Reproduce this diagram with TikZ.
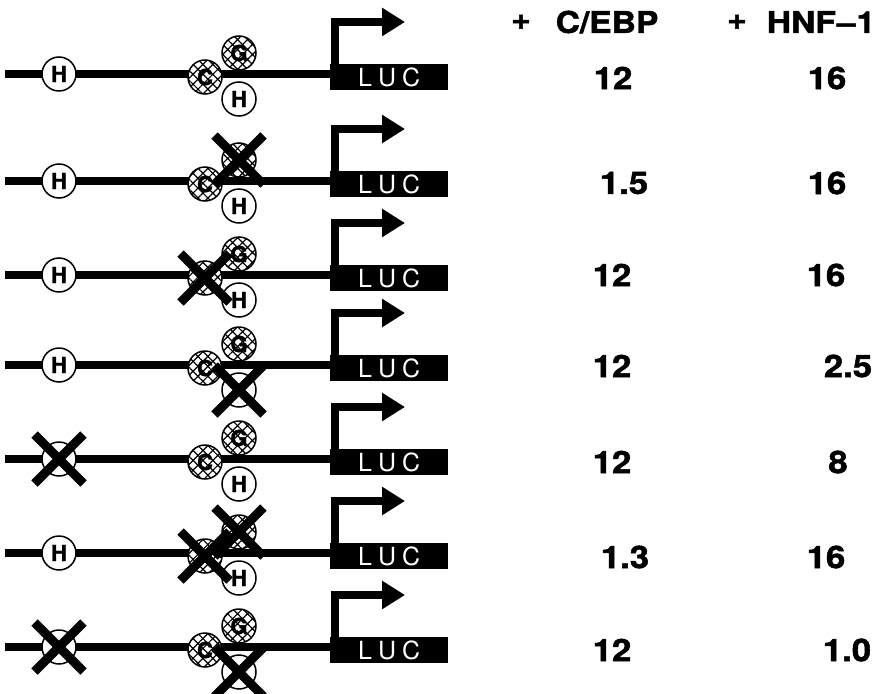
\documentclass[tikz,border=0pt]{standalone}
\usepackage{fontspec}
\setmainfont{TeX Gyre Heros}
\newfontfamily\headfont[FakeStretch=1.12,FakeBold=1.6]{TeX Gyre Heros}
\newfontfamily\sitefont[FakeBold=1.4]{TeX Gyre Heros}
\usetikzlibrary{arrows.meta,patterns.meta,shapes.misc}

\tikzset{
  dna/.style={line width=8pt},
  site/.style={circle,draw,line width=1.5pt,fill=white,minimum size=34pt,inner sep=0pt,
    font=\sitefont\bfseries\fontsize{22}{22}\selectfont},
  cebpsite/.style={site,postaction={pattern={Hatch[angle=45,distance=7pt,line width=1.2pt]}}},
  knock/.style={cross out,draw,line width=9pt,minimum size=40pt,inner sep=0pt},
  luc/.style={fill=black,text=white,minimum width=118pt,minimum height=26pt,inner sep=0pt,
    font=\fontsize{25}{25}\selectfont},
  head/.style={font=\headfont\bfseries\fontsize{30}{30}\selectfont},
  val/.style={font=\headfont\bfseries\fontsize{31}{31}\selectfont},
}

\begin{document}
\begin{tikzpicture}[x=1pt,y=-1pt]
\useasboundingbox (0,0) rectangle (877,693);
% column heads
\node[head] (pc) at (521,22) {+};
\node[head] (cebp) at (607,22) {C/EBP};
\node[head] (ph) at (737,22) {+};
\node[head] (hnf) at (821,22) {HNF\kern1pt\textendash\kern1pt1};
% constructs: row/y/knocked distal H, C, G, proximal H
\foreach \r/\y/\kd/\kc/\kg/\kp in {1/74/0/0/0/0,2/181/0/0/1/0,3/275/0/1/0/0,4/365/0/0/0/1,
    5/459/1/0/0/0,6/553/0/1/1/0,7/647/1/0/0/1}{
  \coordinate (start\r) at (5,\y);
  \node[luc,anchor=north west] (luc\r) at (330,\y-10) {L\kern6pt U\kern6pt C};
  \coordinate (tip\r) at (405,\y-52);
  \draw[dna] (start\r) -- (luc\r.west |- start\r);
  \draw[dna,-{Triangle[length=23pt,width=27pt]}] ([xshift=5pt]luc\r.north west) |- (tip\r);
  \node[site] (hd\r) at (59,\y) {\ifnum\kd=0 H\fi};
  \node[cebpsite] (cs\r) at (205,\y+3) {\ifnum\kc=0 C\fi};
  \node[cebpsite] (gs\r) at (239,\y-21) {\ifnum\kg=0 G\fi};
  \node[site] (hp\r) at (239,\y+25) {\ifnum\kp=0 H\fi};
  \ifnum\kd=1 \node[knock] at (hd\r) {};\fi
  \ifnum\kc=1 \node[knock] at (cs\r) {};\fi
  \ifnum\kg=1 \node[knock] at (gs\r) {};\fi
  \ifnum\kp=1 \node[knock] at (hp\r) {};\fi
}
% fold activation
\node[val] (ca1) at (613,78) {12};
\node[val] (ca2) at (624,183) {1.5};
\node[val] (ca3) at (612,275) {12};
\node[val] (ca4) at (612,366) {12};
\node[val] (ca5) at (612,462) {12};
\node[val] (ca6) at (625,557) {1.3};
\node[val] (ca7) at (612,650) {12};
\node[val] (hn1) at (827,78) {16};
\node[val] (hn2) at (827,183) {16};
\node[val] (hn3) at (826,275) {16};
\node[val] (hn4) at (848,366) {2.5};
\node[val] (hn5) at (838,462) {8};
\node[val] (hn6) at (826,557) {16};
\node[val] (hn7) at (847,650) {1.0};
\end{tikzpicture}
\end{document}
